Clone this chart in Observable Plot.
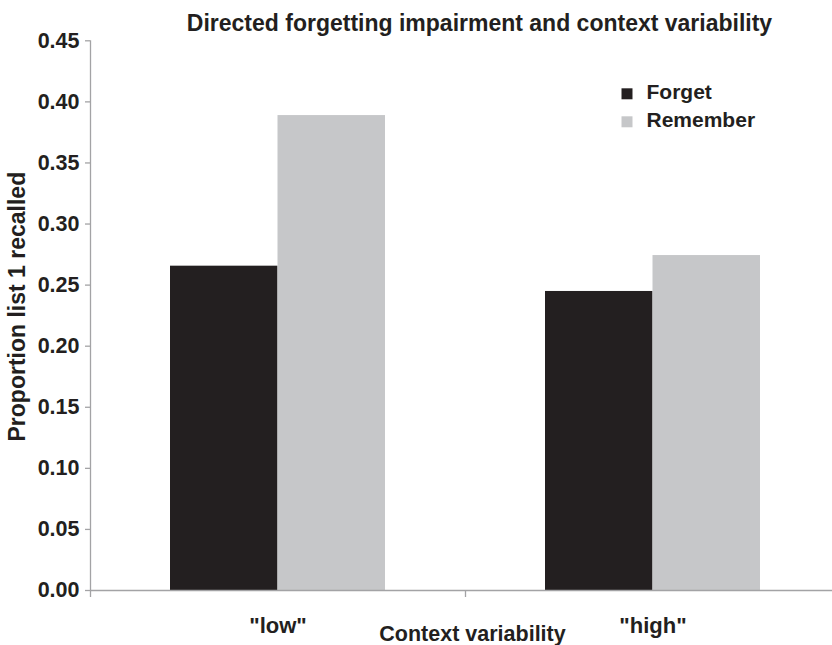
<!DOCTYPE html>
<html>
<head>
<meta charset="utf-8">
<script src="https://cdn.jsdelivr.net/npm/d3@7"></script>
<script src="https://cdn.jsdelivr.net/npm/@observablehq/plot@0.6"></script>
<style>
  html, body { margin: 0; padding: 0; background: #fff; }
  #chart { width: 832px; height: 645px; overflow: hidden; }
</style>
</head>
<body>
<div id="chart"></div>
<script>
// ---- data ----
const categories = ['"low"', '"high"'];
const series = ["Forget", "Remember"];
const forget = [0.2655, 0.2448];
const remember = [0.3888, 0.2742];
const yTicks = [0, 0.05, 0.10, 0.15, 0.20, 0.25, 0.30, 0.35, 0.40, 0.45];
const colors = ["#231f20", "#c6c7c9"];
const title = "Directed forgetting impairment and context variability";
const xTitle = "Context variability";
const yTitle = "Proportion list 1 recalled";

// ---- table built from the arrays ----
const values = {Forget: forget, Remember: remember};
const rows = categories.flatMap((c, i) =>
  series.map(s => ({cat: c, i, series: s, value: values[s][i]}))
);

const ink = "#231f20";
const axisGray = "#a3a3a5";
const font = '"Liberation Sans", Arial, Helvetica, sans-serif';

const legendMarks = series.flatMap((s, k) => [
  Plot.dot([s], {frameAnchor: "top-left", dx: 626.5 - 90, dy: 53 + k * 28,
    symbol: "square", r: 6.2, fill: colors[k], stroke: null}),
  Plot.text([s], {text: d => d, frameAnchor: "top-left", dx: 646 - 90, dy: 51 + k * 28,
    textAnchor: "start", lineAnchor: "middle", fontSize: 21, fontWeight: "bold", fill: ink})
]);

const plot = Plot.plot({
  width: 832,
  height: 645,
  marginTop: 40.3,
  marginBottom: 55,
  marginLeft: 90,
  marginRight: 0,
  style: {fontFamily: font, fontWeight: "bold", color: ink, background: "#fff", overflow: "visible"},
  x: {domain: [0, categories.length], range: [90, 840], axis: null},
  y: {domain: [0, 0.45], range: [590, 40.3], axis: null},
  marks: [
    Plot.rectY(rows.filter(d => d.series === "Forget"), {
      x1: "i", x2: d => d.i + 1, y1: 0, y2: "value",
      fill: colors[0], insetLeft: 80, insetRight: 187.5
    }),
    Plot.rectY(rows.filter(d => d.series === "Remember"), {
      x1: "i", x2: d => d.i + 1, y1: 0, y2: "value",
      fill: colors[1], insetLeft: 187.5, insetRight: 80
    }),
    Plot.ruleY([0], {stroke: axisGray, strokeWidth: 1.3}),
    Plot.ruleX([0], {y1: 0.45, y2: 0, insetBottom: -7, stroke: axisGray, strokeWidth: 1.3}),
    Plot.axisX([1], {tickSize: 7, tickFormat: () => "", stroke: axisGray, strokeWidth: 1.3, label: null}),
    Plot.axisY(yTicks, {
      tickSize: 5, tickPadding: 6, tickFormat: d3.format(".2f"),
      fontSize: 21.5, fontWeight: "bold", fill: ink, stroke: axisGray, strokeWidth: 1.3, label: null
    }),
    Plot.text(categories, {
      text: d => d, x: (d, i) => i + 0.5, frameAnchor: "bottom", dy: 35,
      lineAnchor: "middle", fontSize: 22, fontWeight: "bold", fill: ink
    }),
    Plot.text([xTitle], {
      text: d => d, frameAnchor: "bottom", dx: 11, dy: 44,
      lineAnchor: "middle", fontSize: 21.5, fontWeight: "bold", fill: ink
    }),
    Plot.text([yTitle], {
      text: d => d, frameAnchor: "left", rotate: -90, dx: -73, dy: -9,
      textAnchor: "middle", lineAnchor: "middle", fontSize: 23, fontWeight: "bold", fill: ink
    }),
    Plot.text([title], {
      text: d => d, frameAnchor: "top", dx: 18, dy: -17,
      textAnchor: "middle", lineAnchor: "middle", fontSize: 23, fontWeight: "bold", fill: ink
    }),
    ...legendMarks
  ]
});

document.getElementById("chart").appendChild(plot);
</script>
</body>
</html>
